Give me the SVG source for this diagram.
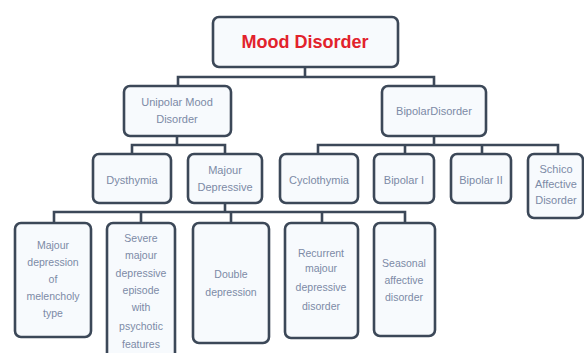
<svg xmlns="http://www.w3.org/2000/svg" width="584" height="353" viewBox="0 0 584 353">
<style>
.box{fill:#f7fafd;stroke:#3c4858;stroke-width:2.6}
.c{fill:none;stroke:#3c4858;stroke-width:2.6;stroke-linecap:square}
.t{font-family:"Liberation Sans",Arial,sans-serif;font-size:11px;fill:#7c8aa6;text-anchor:middle}
.s{font-size:10.5px}
.title{font-family:"Liberation Sans",Arial,sans-serif;font-size:18px;font-weight:bold;fill:#e2222c;text-anchor:middle}
</style>
<rect width="584" height="353" fill="#ffffff"/>
<g id="connectors">
<path class="c" d="M305 67V77M178 86V77H434V86"/>
<path class="c" d="M177 136V145M132 154V145H225V154"/>
<path class="c" d="M434 136V145M318 154V145H558V154M405 145V154M482 145V154"/>
<path class="c" d="M225 203V212M54 223V212H405V223M141 212V223M231 212V223M322 212V223"/>
</g>
<g id="root"><rect class="box" x="213" y="17" width="185" height="50" rx="6"/><text class="title" x="305" y="48">Mood Disorder</text></g>
<g id="unipolar"><rect class="box" x="124" y="86" width="107" height="50" rx="6"/><text class="t" x="177" y="106">Unipolar Mood</text><text class="t" x="177" y="123">Disorder</text></g>
<g id="bipolar"><rect class="box" x="382" y="86" width="104" height="50" rx="6"/><text class="t" x="434" y="115">BipolarDisorder</text></g>
<g id="dysthymia"><rect class="box" x="93" y="154" width="78" height="49" rx="6"/><text class="t" x="132" y="184">Dysthymia</text></g>
<g id="majour-depressive"><rect class="box" x="188" y="154" width="74" height="49" rx="6"/><text class="t" x="225" y="174">Majour</text><text class="t" x="225" y="191">Depressive</text></g>
<g id="cyclothymia"><rect class="box" x="280" y="154" width="78" height="49" rx="6"/><text class="t" x="319" y="184">Cyclothymia</text></g>
<g id="bipolar-1"><rect class="box" x="374" y="154" width="60" height="49" rx="6"/><text class="t" x="404" y="184">Bipolar I</text></g>
<g id="bipolar-2"><rect class="box" x="451" y="154" width="60" height="49" rx="6"/><text class="t" x="481" y="184">Bipolar II</text></g>
<g id="schizo"><rect class="box" x="528" y="154" width="55" height="64" rx="6"/><text class="t" x="556" y="173">Schico</text><text class="t" x="556" y="188">Affective</text><text class="t" x="556" y="204">Disorder</text></g>
<g id="melencholy"><rect class="box" x="15" y="223" width="76" height="114" rx="6"/><text class="t s" x="53" y="249">Majour</text><text class="t s" x="53" y="266">depression</text><text class="t s" x="53" y="283">of</text><text class="t s" x="53" y="300">melencholy</text><text class="t s" x="53" y="317">type</text></g>
<g id="severe"><rect class="box" x="107" y="223" width="68" height="140" rx="6"/><text class="t s" x="141" y="242">Severe</text><text class="t s" x="141" y="259">majour</text><text class="t s" x="141" y="277">depressive</text><text class="t s" x="141" y="294">episode</text><text class="t s" x="141" y="311">with</text><text class="t s" x="141" y="330">psychotic</text><text class="t s" x="141" y="348">features</text></g>
<g id="double"><rect class="box" x="193" y="223" width="76" height="120" rx="6"/><text class="t s" x="231" y="278">Double</text><text class="t s" x="231" y="296">depression</text></g>
<g id="recurrent"><rect class="box" x="285" y="223" width="73" height="115" rx="6"/><text class="t s" x="321" y="257">Recurrent</text><text class="t s" x="321" y="272">majour</text><text class="t s" x="321" y="291">depressive</text><text class="t s" x="321" y="310">disorder</text></g>
<g id="seasonal"><rect class="box" x="374" y="223" width="61" height="113" rx="6"/><text class="t s" x="404" y="267">Seasonal</text><text class="t s" x="404" y="284">affective</text><text class="t s" x="404" y="301">disorder</text></g>
</svg>
